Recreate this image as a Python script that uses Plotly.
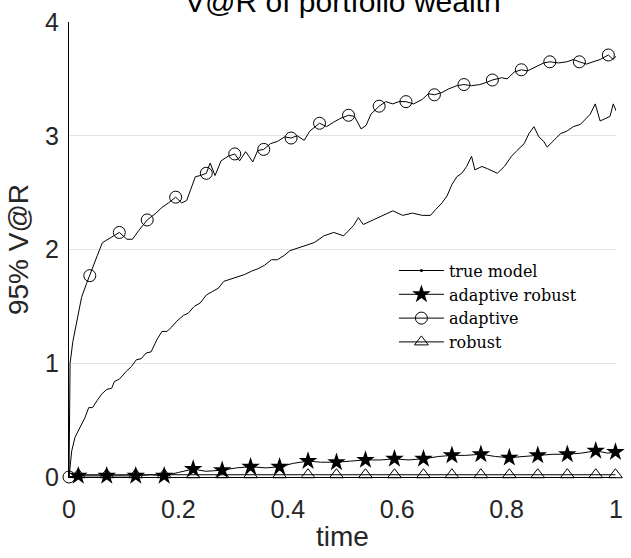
import plotly.graph_objects as go

# ---------------- data ----------------
true_t = [0, 0.002, 0.005, 0.011, 0.020, 0.029, 0.036, 0.043, 0.051, 0.060, 0.069, 0.078, 0.083, 0.092,
          0.105, 0.114, 0.123, 0.132, 0.141, 0.150, 0.161, 0.170, 0.179, 0.188, 0.197, 0.209, 0.218, 0.229,
          0.240, 0.251, 0.262, 0.273, 0.283, 0.296, 0.309, 0.321, 0.334, 0.345, 0.357, 0.370, 0.381, 0.394,
          0.404, 0.417, 0.430, 0.448, 0.466, 0.484, 0.502, 0.520, 0.529, 0.538, 0.556, 0.574, 0.592, 0.610,
          0.628, 0.646, 0.661, 0.670, 0.682, 0.691, 0.700, 0.709, 0.718, 0.727, 0.736, 0.742, 0.755, 0.765,
          0.783, 0.796, 0.809, 0.819, 0.832, 0.841, 0.850, 0.859, 0.868, 0.874, 0.886, 0.899, 0.910, 0.922,
          0.935, 0.944, 0.953, 0.962, 0.971, 0.980, 0.989, 0.995, 1.0]
true_v = [0, 0.12, 0.23, 0.35, 0.43, 0.52, 0.61, 0.61, 0.67, 0.73, 0.77, 0.78, 0.84, 0.86,
          0.93, 0.97, 1.03, 1.04, 1.09, 1.10, 1.21, 1.28, 1.28, 1.32, 1.37, 1.42, 1.44, 1.50,
          1.53, 1.60, 1.63, 1.66, 1.72, 1.74, 1.76, 1.78, 1.81, 1.83, 1.86, 1.91, 1.91, 1.95,
          1.99, 2.01, 2.03, 2.06, 2.12, 2.15, 2.12, 2.21, 2.28, 2.22, 2.26, 2.30, 2.34, 2.30,
          2.32, 2.30, 2.30, 2.35, 2.41, 2.47, 2.57, 2.64, 2.67, 2.73, 2.82, 2.70, 2.73, 2.71,
          2.67, 2.73, 2.82, 2.87, 2.93, 3.02, 3.08, 2.99, 2.95, 2.90, 2.96, 3.02, 3.04, 3.08,
          3.10, 3.15, 3.19, 3.28, 3.13, 3.15, 3.17, 3.28, 3.22]

adaptive_t = [0, 0.002, 0.007, 0.016, 0.023, 0.032, 0.038, 0.052, 0.061, 0.074, 0.092, 0.106, 0.116,
              0.128, 0.143, 0.159, 0.170, 0.182, 0.195, 0.206, 0.215, 0.231, 0.240, 0.251, 0.258, 0.267,
              0.278, 0.291, 0.303, 0.312, 0.323, 0.336, 0.345, 0.356, 0.368, 0.381, 0.394, 0.406, 0.417,
              0.430, 0.440, 0.458, 0.471, 0.484, 0.495, 0.511, 0.522, 0.534, 0.543, 0.552, 0.567, 0.579,
              0.592, 0.603, 0.616, 0.630, 0.646, 0.657, 0.668, 0.682, 0.693, 0.709, 0.722, 0.736, 0.751,
              0.764, 0.774, 0.791, 0.801, 0.814, 0.827, 0.838, 0.856, 0.868, 0.879, 0.895, 0.910, 0.922,
              0.933, 0.946, 0.958, 0.971, 0.986, 0.995, 1.0]
adaptive_v = [0, 1.0, 1.19, 1.43, 1.58, 1.70, 1.77, 1.95, 2.06, 2.10, 2.15, 2.09, 2.09,
              2.17, 2.26, 2.32, 2.37, 2.41, 2.46, 2.41, 2.43, 2.64, 2.65, 2.67, 2.76, 2.65,
              2.78, 2.82, 2.84, 2.78, 2.86, 2.77, 2.87, 2.88, 2.93, 2.95, 2.99, 2.98, 3.00,
              2.96, 3.04, 3.11, 3.08, 3.12, 3.15, 3.18, 3.17, 3.06, 3.09, 3.19, 3.26, 3.30,
              3.28, 3.30, 3.30, 3.28, 3.32, 3.37, 3.36, 3.38, 3.41, 3.44, 3.45, 3.44, 3.45,
              3.47, 3.49, 3.51, 3.50, 3.56, 3.58, 3.57, 3.61, 3.64, 3.65, 3.64, 3.65, 3.67,
              3.65, 3.63, 3.65, 3.67, 3.71, 3.67, 3.70]
adaptive_mark_t = [0, 0.038, 0.092, 0.143, 0.195, 0.251, 0.303, 0.356, 0.406, 0.458, 0.511, 0.567,
                   0.616, 0.668, 0.722, 0.774, 0.827, 0.879, 0.933, 0.986]
adaptive_mark_v = [0, 1.77, 2.15, 2.26, 2.46, 2.67, 2.84, 2.88, 2.98, 3.11, 3.18, 3.26,
                   3.30, 3.36, 3.45, 3.49, 3.58, 3.65, 3.65, 3.71]

ar_t = [0, 0.017, 0.069, 0.122, 0.150, 0.174, 0.200, 0.227, 0.250, 0.280, 0.306, 0.332, 0.360, 0.385,
        0.410, 0.437, 0.460, 0.489, 0.515, 0.542, 0.570, 0.595, 0.620, 0.648, 0.675, 0.700, 0.725,
        0.753, 0.780, 0.805, 0.830, 0.857, 0.885, 0.911, 0.937, 0.963, 0.985, 1.0]
ar_v = [0, 0.01, 0.01, 0.01, 0.02, 0.01, 0.04, 0.07, 0.05, 0.06, 0.08, 0.09, 0.08, 0.09,
        0.12, 0.14, 0.13, 0.13, 0.14, 0.15, 0.15, 0.16, 0.15, 0.16, 0.18, 0.19, 0.19,
        0.20, 0.18, 0.17, 0.18, 0.19, 0.20, 0.20, 0.21, 0.23, 0.21, 0.22]
ar_mark_t = [0.017, 0.069, 0.122, 0.174, 0.227, 0.280, 0.332, 0.385, 0.437, 0.489, 0.542, 0.595,
             0.648, 0.700, 0.753, 0.805, 0.857, 0.911, 0.963, 0.999]
ar_mark_v = [0.01, 0.01, 0.01, 0.01, 0.07, 0.06, 0.09, 0.09, 0.14, 0.13, 0.15, 0.16,
             0.16, 0.19, 0.20, 0.17, 0.19, 0.20, 0.23, 0.22]

robust_t = [0, 0.017, 0.069, 0.122, 0.174, 0.227, 0.280, 0.332, 0.385, 0.437, 0.489, 0.542, 0.595,
            0.648, 0.700, 0.753, 0.805, 0.857, 0.911, 0.963, 0.999]
robust_v = [0, 0.02, 0.02, 0.02, 0.02, 0.02, 0.02, 0.02, 0.02, 0.02, 0.02, 0.02, 0.02,
            0.02, 0.02, 0.02, 0.02, 0.02, 0.02, 0.02, 0.02]

x_ticks = [0, 0.2, 0.4, 0.6, 0.8, 1]
x_ticktext = ["0", "0.2", "0.4", "0.6", "0.8", "1"]
y_ticks = [0, 1, 2, 3, 4]
y_ticktext = ["0", "1", "2", "3", "4"]
legend_names = ["true model", "adaptive robust", "adaptive", "robust"]

# ---------------- figure ----------------
BLACK = "#000000"
TXT = "#262626"
SANS = "Liberation Sans, Arial"
fig = go.Figure()

fig.add_trace(go.Scatter(x=true_t, y=true_v, mode="lines", line=dict(color=BLACK, width=1),
                         showlegend=False, cliponaxis=False))
fig.add_trace(go.Scatter(x=ar_t, y=ar_v, mode="lines", line=dict(color=BLACK, width=1),
                         showlegend=False, cliponaxis=False))
fig.add_trace(go.Scatter(x=adaptive_t, y=adaptive_v, mode="lines", line=dict(color=BLACK, width=1),
                         showlegend=False, cliponaxis=False))
fig.add_trace(go.Scatter(x=robust_t, y=robust_v, mode="lines", line=dict(color=BLACK, width=1.2),
                         showlegend=False, cliponaxis=False))

fig.add_trace(go.Scatter(x=ar_mark_t, y=ar_mark_v, mode="markers",
                         marker=dict(symbol="star", size=14, color=BLACK, line=dict(width=0)),
                         showlegend=False, cliponaxis=False))
fig.add_trace(go.Scatter(x=adaptive_mark_t, y=adaptive_mark_v, mode="markers",
                         marker=dict(symbol="circle-open", size=12, color=BLACK, line=dict(width=1)),
                         showlegend=False, cliponaxis=False))
fig.add_trace(go.Scatter(x=robust_t[1:], y=robust_v[1:], mode="markers",
                         marker=dict(symbol="triangle-up-open", size=12, color=BLACK, line=dict(width=1)),
                         showlegend=False, cliponaxis=False))

# legend-only entries
legend_markers = [dict(symbol="circle", size=3, color=BLACK),
                  dict(symbol="star", size=14, color=BLACK),
                  dict(symbol="circle-open", size=12, color=BLACK, line=dict(width=1)),
                  dict(symbol="triangle-up-open", size=12, color=BLACK, line=dict(width=1))]
for name, mk in zip(legend_names, legend_markers):
    fig.add_trace(go.Scatter(x=[None], y=[None], mode="lines+markers", name=name,
                             line=dict(color=BLACK, width=1), marker=mk))

fig.add_annotation(text="V@R of portfolio wealth", x=0.5, y=1, xref="paper", yref="paper",
                   xanchor="center", yanchor="bottom", yshift=2, showarrow=False,
                   font=dict(family=SANS, size=30, color="#000000"))

fig.update_layout(
    width=631, height=558,
    margin=dict(l=69, r=8, t=17, b=81),
    paper_bgcolor="white", plot_bgcolor="white",
    font=dict(family=SANS, color=TXT),
    legend=dict(x=0.594, y=0.491, xanchor="left", yanchor="top",
                bgcolor="white", borderwidth=0,
                font=dict(family="DejaVu Serif", size=16, color="#000000"),
                tracegroupgap=0, itemwidth=45),
    xaxis=dict(range=[0, 1], tickvals=x_ticks, ticktext=x_ticktext,
               tickfont=dict(size=25, color=TXT), ticks="", ticklabelstandoff=10,
               showline=True, linecolor=BLACK, linewidth=1, showgrid=False, zeroline=False,
               title=dict(text="time", font=dict(size=28, color=TXT), standoff=4)),
    yaxis=dict(range=[0, 4], tickvals=y_ticks, ticktext=y_ticktext,
               tickfont=dict(size=25, color=TXT), ticks="", ticklabelstandoff=4,
               showline=True, linecolor=BLACK, linewidth=1,
               showgrid=True, gridcolor="#e3e3e3", gridwidth=1, zeroline=False,
               title=dict(text="95% V@R", font=dict(size=28, color=TXT), standoff=8)),
)

fig.write_html("out.html")
